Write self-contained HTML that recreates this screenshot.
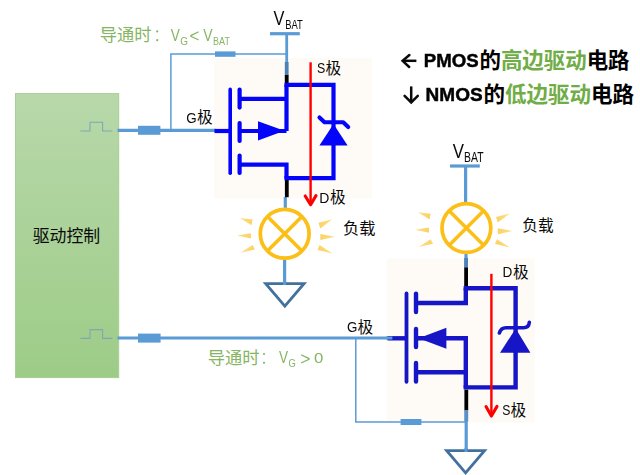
<!DOCTYPE html>
<html lang="zh"><head><meta charset="utf-8"><title>PMOS/NMOS 驱动电路</title>
<style>html,body{margin:0;padding:0;background:#fff}body{width:640px;height:475px;overflow:hidden;font-family:"Liberation Sans","Noto Sans CJK SC",sans-serif}svg{display:block}text{font-family:"Liberation Sans","Noto Sans CJK SC",sans-serif}</style>
</head><body>
<svg width="640" height="475" viewBox="0 0 640 475">
<defs>
<linearGradient id="gg" x1="0" y1="0" x2="0" y2="1"><stop offset="0" stop-color="#b8d8aa"/><stop offset="1" stop-color="#9dcc87"/></linearGradient>
<linearGradient id="rl" x1="0" y1="0" x2="1" y2="0"><stop offset="0" stop-color="#fcdd88"/><stop offset="1" stop-color="#fbd263"/></linearGradient>
<linearGradient id="rr" x1="1" y1="0" x2="0" y2="0"><stop offset="0" stop-color="#fcdd88"/><stop offset="1" stop-color="#fbd263"/></linearGradient>
</defs>
<rect width="640" height="475" fill="#fff"/>
<rect x="15.5" y="93.6" width="103.2" height="284" fill="url(#gg)" stroke="#a5cf93" stroke-width="1"/>
<path d="M80.4 131H90V122.2H102.6V131H112.4" fill="none" stroke="#7ea9b4" stroke-width="1.1"/>
<path d="M80.4 338.4H90V329.6H102.6V338.4H112.4" fill="none" stroke="#7ea9b4" stroke-width="1.1"/>
<rect x="214" y="58" width="158" height="140.4" fill="#fefbf6"/>
<rect x="386.5" y="258.5" width="148" height="164" fill="#fefbf6"/>
<g stroke="#5b9bd5" fill="none">
<g stroke-width="3.2">
<path d="M117.5 130.3H216"/>
<path d="M117.5 338H392.5"/>
<path d="M270 33.7H299.8"/><path d="M286.7 33.7V63" stroke-width="2.8"/>
<path d="M450 166H479.8"/><path d="M465.6 166V203"/>
<path d="M285.3 197V208"/><path d="M284.6 259V284"/>
<path d="M466 254V268"/><path d="M466.2 410V450"/>
</g>
<g stroke-width="1.5">
<path d="M170.9 130V54H286.4"/>
<path d="M355.8 338V421.9H466"/>
</g></g>
<g fill="#5b9bd5">
<rect x="138" y="125.8" width="22.4" height="9"/>
<rect x="138" y="333.6" width="22.6" height="9"/>
<rect x="215" y="51.4" width="20.5" height="5.4"/>
<rect x="400.6" y="419" width="20.8" height="6"/>
</g>
<rect x="284.8" y="62" width="3.8" height="13.5" fill="#4f81b4"/>
<rect x="284.8" y="75" width="3.8" height="8" fill="#000"/>
<rect x="284.9" y="180" width="3.8" height="17.2" fill="#000"/>
<rect x="464.2" y="258" width="3.8" height="10" fill="#4f81b4"/>
<rect x="464.2" y="267.6" width="3.8" height="19" fill="#000"/>
<rect x="464.4" y="389.6" width="3.8" height="20.6" fill="#000"/>
<rect x="464.4" y="410" width="3.8" height="11.5" fill="#5b8fc6"/>
<g stroke="#0404fb" fill="none" stroke-width="4.2" stroke-linejoin="miter">
<path d="M214.5 131H230"/>
<path d="M230.2 89.4V173.2" stroke-width="3.6" stroke-linecap="round"/>
<g stroke-linecap="round"><path d="M239.6 89.6V107.6"/><path d="M239.6 123V141"/><path d="M239.6 155.6V173"/></g>
<path d="M239.6 98.8H286.5"/>
<path d="M239.6 131H286.5"/>
<path d="M239.6 164.6H286.5V178.2"/>
<path d="M286.5 131V84.8"/>
<path d="M284.4 84.8H333.5V178.2H284.4"/>
<path d="M319.5 117.5L324.5 122.2H343.2L348.2 127" stroke-width="4.1" stroke-linecap="round" stroke-linejoin="round"/>
</g>
<path d="M258 121.2V140.4L284.4 130.8Z" fill="#0404fb"/>
<path d="M333.5 124L319.4 145.6H347.6Z" fill="#0404fb"/>
<g stroke="#1616c6" fill="none" stroke-width="4.4" stroke-linejoin="miter">
<path d="M387.5 338.3H406.5"/>
<path d="M406.5 293.4V381.8" stroke-width="3.8" stroke-linecap="round"/>
<g stroke-linecap="round"><path d="M416 293.6V312"/><path d="M416 329V347"/><path d="M416 363V381.6"/></g>
<path d="M416 303H465.8V288.3"/>
<path d="M416 338.3H465.8V387.4"/>
<path d="M416 372.3H465.8"/>
<path d="M463.6 288.3H515.6V387.4H463.6"/>
<path d="M499.4 333C500.5 329.5 502.5 327.8 506 327.8H523.5C527 327.8 529 326 529.3 322.4" stroke-width="3.6" stroke-linecap="round" stroke-linejoin="round"/>
</g>
<path d="M446.4 327.8V348.8L418.6 338.3Z" fill="#1616c6"/>
<path d="M386 338H392.4" stroke="#5b9bd5" stroke-width="3" fill="none"/>
<path d="M515.7 328.5L500 352.8H530.4Z" fill="#1616c6"/>
<g stroke="#f00" fill="none" stroke-width="2.4">
<path d="M310.6 62.3V204"/>
<path d="M305.2 196L310.6 204.8L316 195.6" stroke-width="3.1" stroke-linecap="round" stroke-linejoin="round"/>
<path d="M491.4 273.8V415"/>
<path d="M486 406.6L491.4 416L497 406.4" stroke-width="3.1" stroke-linecap="round" stroke-linejoin="round"/>
</g>
<g stroke="#fcbf17" fill="none" stroke-width="3.7"><circle cx="284.7" cy="233.8" r="24.4" fill="#fff"/><path d="M267.45 216.55L301.95 251.05M301.95 216.55L267.45 251.05" stroke-width="3.6"/></g><polygon points="239.9,218 252.5,219.6 251.5,225.2" fill="url(#rl)"/><polygon points="236.9,235.6 250.9,233.2 250.9,238.6" fill="url(#rl)"/><polygon points="240.7,252.7 252.5,245 254.9,249.6" fill="url(#rl)"/><polygon points="332.3,219.2 318.5,222.8 320.3,228.4" fill="url(#rr)"/><polygon points="335.1,236.8 320.3,234 320.3,240" fill="url(#rr)"/><polygon points="332.7,253.4 317.5,249.9 319.5,245.1" fill="url(#rr)"/>
<g stroke="#fcbf17" fill="none" stroke-width="3.7"><circle cx="466.4" cy="228" r="24.4" fill="#fff"/><path d="M449.15 210.75L483.65 245.25M483.65 210.75L449.15 245.25" stroke-width="3.6"/></g><polygon points="418,212.2 430.6,213.8 429.6,219.4" fill="url(#rl)"/><polygon points="415,229.8 429,227.4 429,232.8" fill="url(#rl)"/><polygon points="418.8,246.9 430.6,239.2 433,243.8" fill="url(#rl)"/><polygon points="509.8,213.4 496,217 497.8,222.6" fill="url(#rr)"/><polygon points="512.6,231 497.8,228.2 497.8,234.2" fill="url(#rr)"/><polygon points="510.2,247.6 495,244.1 497,239.3" fill="url(#rr)"/>
<polygon points="262.6,282.3 307.1,282.3 284.85,308.2" fill="#41719c"/><polygon points="268.7,285.1 301,285.1 284.85,303.9" fill="#fff"/>
<polygon points="443.6,449.2 487.6,449.2 465.6,475" fill="#41719c"/><polygon points="449.67,452 481.53,452 465.6,470.68" fill="#fff"/>
<path d="M284.6 281V285.1M466 448V452" stroke="#5b9bd5" stroke-width="3" fill="none"/>
<g><text x="32.7" y="241.6" font-size="16.89" fill="#0a0a0a" font-family="'Liberation Sans','Noto Sans CJK SC',sans-serif">驱动控制</text></g>
<g><text x="99.7" y="41.4" font-size="17.28" fill="#86b564" font-family="'Liberation Sans','Noto Sans CJK SC',sans-serif">导通时</text></g>
<g fill="#86b564"><circle cx="157.2" cy="31.4" r="1.1"/><circle cx="157.2" cy="40.2" r="1.1"/></g>
<g><text x="207.7" y="364" font-size="17.28" fill="#86b564" font-family="'Liberation Sans','Noto Sans CJK SC',sans-serif">导通时</text></g>
<g fill="#86b564"><circle cx="264" cy="354" r="1.1"/><circle cx="264" cy="362.8" r="1.1"/></g>
<g><text x="197" y="123" font-size="15.66" fill="#0a0a0a" font-family="'Liberation Sans','Noto Sans CJK SC',sans-serif">极</text></g>
<g><text x="325.6" y="73.7" font-size="15.66" fill="#0a0a0a" font-family="'Liberation Sans','Noto Sans CJK SC',sans-serif">极</text></g>
<g><text x="329.9" y="203" font-size="15.66" fill="#0a0a0a" font-family="'Liberation Sans','Noto Sans CJK SC',sans-serif">极</text></g>
<g><text x="357.6" y="332.5" font-size="15.66" fill="#0a0a0a" font-family="'Liberation Sans','Noto Sans CJK SC',sans-serif">极</text></g>
<g><text x="513" y="278.2" font-size="15.66" fill="#0a0a0a" font-family="'Liberation Sans','Noto Sans CJK SC',sans-serif">极</text></g>
<g><text x="510.5" y="415.5" font-size="15.66" fill="#0a0a0a" font-family="'Liberation Sans','Noto Sans CJK SC',sans-serif">极</text></g>
<g><text x="343" y="233.9" font-size="16.22" fill="#0a0a0a" font-family="'Liberation Sans','Noto Sans CJK SC',sans-serif">负载</text></g>
<g><text x="522.3" y="231" font-size="15.65" fill="#0a0a0a" font-family="'Liberation Sans','Noto Sans CJK SC',sans-serif">负载</text></g>
<g><text x="479.5" y="67.8" font-size="21.44" font-weight="700" fill="#000" font-family="'Liberation Sans','Noto Sans CJK SC',sans-serif">的<tspan fill="#70ad47">高边驱动</tspan><tspan fill="#000">电路</tspan></text></g>
<g><text x="483.5" y="101.6" font-size="21.52" font-weight="700" fill="#000" font-family="'Liberation Sans','Noto Sans CJK SC',sans-serif">的<tspan fill="#70ad47">低边驱动</tspan><tspan fill="#000">电路</tspan></text></g>
<g stroke="#0a0a0a" fill="none" stroke-width="2.5" stroke-linecap="round" stroke-linejoin="miter">
<path d="M416.4 60.8H403.4" stroke-linecap="butt"/><path d="M409.4 55L402.6 60.8L409.2 67"/>
<path d="M411.2 86.4V101.6" stroke-linecap="butt"/><path d="M404.6 95.8L411.2 102.4L417.8 95.8"/>
</g>
<g opacity="0.999">
<text transform="matrix(0.82 0 0 1 273.48 25)" font-size="20" fill="#0a0a0a">V</text>
<text transform="matrix(0.47 0 0 0.65 285.17 28.5)" font-size="20" fill="#0a0a0a">BAT</text>
<text transform="matrix(0.84 0 0 1.02 452.78 157.7)" font-size="20" fill="#0a0a0a">V</text>
<text transform="matrix(0.52 0 0 0.7 464.09 161.5)" font-size="20" fill="#0a0a0a">BAT</text>
<text transform="matrix(0.68 0 0 0.84 170.79 40.9)" font-size="20" fill="#86b564">V</text>
<text transform="matrix(0.5 0 0 0.54 180.35 44.9)" font-size="20" fill="#86b564">G</text>
<text transform="matrix(0.85 0 0 0.92 189.51 42.28)" font-size="20" fill="#86b564">&lt;</text>
<text transform="matrix(0.7 0 0 0.84 203.29 40.9)" font-size="20" fill="#86b564">V</text>
<text transform="matrix(0.45 0 0 0.53 213.11 44.9)" font-size="20" fill="#86b564">BAT</text>
<text transform="matrix(0.68 0 0 0.78 278.99 363.2)" font-size="20" fill="#86b564">V</text>
<text transform="matrix(0.47 0 0 0.52 288.58 367.1)" font-size="20" fill="#86b564">G</text>
<text transform="matrix(0.87 0 0 0.9 300.19 364.55)" font-size="20" fill="#86b564">&gt;</text>
<text transform="matrix(0.84 0 0 0.77 313.9 363.25)" font-size="20" fill="#86b564">0</text>
<text transform="matrix(0.67 0 0 0.71 186.37 122.56)" font-size="20" fill="#0a0a0a">G</text>
<text transform="matrix(0.62 0 0 0.71 316.99 72.86)" font-size="20" fill="#0a0a0a">S</text>
<text transform="matrix(0.7 0 0 0.73 319.2 202.7)" font-size="20" fill="#0a0a0a">D</text>
<text transform="matrix(0.67 0 0 0.72 347.07 332.06)" font-size="20" fill="#0a0a0a">G</text>
<text transform="matrix(0.68 0 0 0.7 502.54 277.4)" font-size="20" fill="#0a0a0a">D</text>
<text transform="matrix(0.61 0 0 0.72 502.2 415.06)" font-size="20" fill="#0a0a0a">S</text>
<text transform="matrix(0.93 0 0 0.95 423.8 67.12)" font-size="20" font-weight="700" stroke="#000" stroke-width="0.5" fill="#000">PMOS</text>
<text transform="matrix(0.95 0 0 0.95 425.58 101.11)" font-size="20" font-weight="700" stroke="#000" stroke-width="0.5" fill="#000">NMOS</text>
</g>
</svg></body></html>
